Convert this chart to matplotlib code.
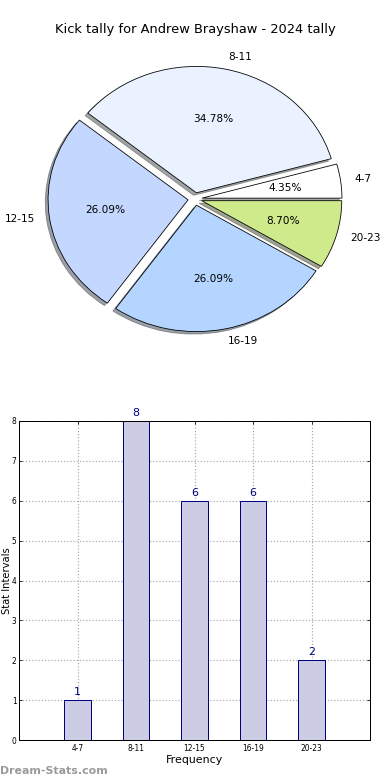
import matplotlib
matplotlib.use("Agg")
import matplotlib.pyplot as plt

labels = ["4-7", "8-11", "12-15", "16-19", "20-23"]
counts = [1, 8, 6, 6, 2]
pie_colors = ["#FFFFFF", "#EAF1FF", "#C4D8FF", "#B4D5FF", "#CEEA8A"]
explode = [0.05, 0.05, 0.05, 0.05, 0.05]
yticks = [0, 1, 2, 3, 4, 5, 6, 7, 8]

W, H = 390, 780
fig = plt.figure(figsize=(W / 72, H / 72), dpi=72)

# pie (stretched, like the old non-equal-aspect pie)
ax1 = fig.add_axes([20 / W, 1 - 357 / H, 350 / W, 316 / H])
ax1.pie(counts, labels=labels, colors=pie_colors, explode=explode,
        autopct="%.2f%%", shadow=True, startangle=0,
        wedgeprops={"edgecolor": "black", "linewidth": 0.8},
        textprops={"fontsize": 10.5})
ax1.set_aspect("auto")
ax1.set_xlim(-1.25, 1.25)
ax1.set_ylim(-1.25, 1.25)
fig.text(195 / W, 1 - 30 / H, "Kick tally for Andrew Brayshaw - 2024 tally",
         ha="center", va="center", fontsize=13)

# bars
ax2 = fig.add_axes([19 / W, 1 - 740 / H, 351 / W, 319 / H])
x = list(range(len(labels)))
ax2.bar(x, counts, width=0.45, color="#CCCCE5", edgecolor="#000080",
        linewidth=1, zorder=2)
for xi, c in zip(x, counts):
    ax2.annotate(str(c), (xi, c), xytext=(0, 3), textcoords="offset points",
                 ha="center", va="bottom", color="#000080", fontsize=11)
ax2.set_xlim(-1, 5)
ax2.set_ylim(0, 8)
ax2.set_xticks(x)
ax2.set_xticklabels(labels, fontsize=7.5)
ax2.set_yticks(yticks)
ax2.set_yticklabels([str(v) for v in yticks], fontsize=7.5)
ax2.tick_params(direction="in", top=True, right=True, length=3, pad=4)
ax2.tick_params(axis="y", pad=2.5)
ax2.grid(True, linestyle=":", color="#AAAAAA", linewidth=1.2, zorder=0)
ax2.set_axisbelow(True)
ax2.set_xlabel("Frequency", fontsize=11, labelpad=2)
ax2.set_ylabel("Stat Intervals", fontsize=10)
ax2.yaxis.set_label_coords(-6.5 / 351, 0.5)
for s in ax2.spines.values():
    s.set_linewidth(1)

fig.text(0, 1 - 771 / H, "Dream-Stats.com", ha="left", va="center",
         fontsize=11, color="#9A9A9A", fontweight="bold")

fig.savefig("out.png", dpi=72)
